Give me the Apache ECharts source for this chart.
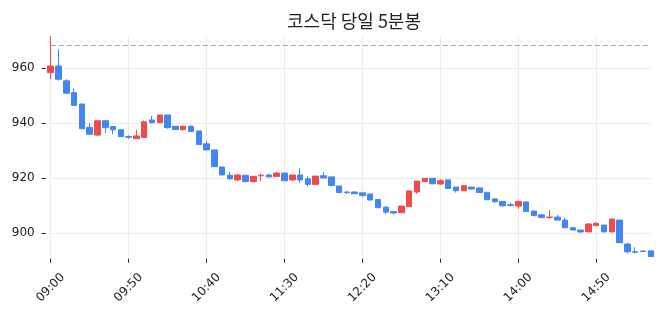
<!DOCTYPE html>
<html>
<head>
<meta charset="utf-8">
<script src="https://cdn.jsdelivr.net/npm/echarts@6/dist/echarts.min.js"></script>
<style>
  html, body { margin: 0; padding: 0; background: #fff; }
  #main { width: 663px; height: 316px; }
</style>
</head>
<body>
<div id="main"></div>
<script>
// 5분봉 시각
var times = [
  '09:00', '09:05', '09:10', '09:15', '09:20', '09:25', '09:30', '09:35', '09:40', '09:45',
  '09:50', '09:55', '10:00', '10:05', '10:10', '10:15', '10:20', '10:25', '10:30', '10:35',
  '10:40', '10:45', '10:50', '10:55', '11:00', '11:05', '11:10', '11:15', '11:20', '11:25',
  '11:30', '11:35', '11:40', '11:45', '11:50', '11:55', '12:00', '12:05', '12:10', '12:15',
  '12:20', '12:25', '12:30', '12:35', '12:40', '12:45', '12:50', '12:55', '13:00', '13:05',
  '13:10', '13:15', '13:20', '13:25', '13:30', '13:35', '13:40', '13:45', '13:50', '13:55',
  '14:00', '14:05', '14:10', '14:15', '14:20', '14:25', '14:30', '14:35', '14:40', '14:45',
  '14:50', '14:55', '15:00', '15:05', '15:10', '15:15', '15:20', '15:25'
];

var opens = [
  958.4, 960.8, 955.4, 951.1, 947.0, 938.5, 935.7, 940.9, 938.8, 937.6,
  935.2, 934.4, 934.8, 941.2, 940.2, 943.0, 938.9, 937.7, 938.9, 937.2,
  932.5, 930.3, 924.1, 921.1, 919.4, 921.1, 918.8, 920.9, 921.2, 920.6,
  921.9, 919.4, 921.2, 919.8, 917.8, 920.9, 920.5, 917.2, 915.0, 915.0,
  914.7, 914.3, 912.3, 909.5, 907.9, 907.5, 909.7, 915.0, 918.8, 920.0,
  917.9, 919.4, 916.8, 915.5, 916.8, 916.5, 914.9, 912.5, 911.6, 910.4,
  909.9, 911.4, 908.1, 906.7, 905.7, 905.9, 904.8, 902.0, 901.2, 900.5,
  902.8, 903.0, 900.5, 904.8, 896.1, 893.3, 893.6, 893.6
];
var closes = [
  960.8, 956.0, 950.9, 946.5, 938.0, 936.0, 940.9, 938.4, 937.6, 935.1,
  934.9, 935.4, 940.5, 940.2, 943.0, 938.4, 937.7, 938.9, 937.0, 932.2,
  930.3, 924.2, 921.2, 919.8, 921.2, 918.8, 920.7, 921.1, 920.5, 921.9,
  919.1, 921.2, 919.4, 917.8, 920.8, 920.1, 917.4, 914.8, 914.8, 914.4,
  913.7, 912.1, 909.3, 907.7, 907.4, 909.9, 915.4, 919.0, 920.0, 918.0,
  919.1, 916.3, 915.5, 917.3, 916.1, 914.8, 912.2, 911.5, 910.0, 910.1,
  911.6, 907.9, 906.4, 905.7, 905.9, 904.8, 902.0, 901.2, 900.5, 903.4,
  903.6, 900.5, 905.2, 896.6, 893.3, 893.1, 893.4, 891.5
];
var lows = [
  956.0, 955.5, 950.9, 946.5, 938.0, 936.0, 935.3, 936.4, 936.0, 935.1,
  934.3, 934.4, 934.8, 940.0, 940.0, 938.0, 937.7, 937.3, 937.0, 932.2,
  930.3, 924.2, 921.2, 919.5, 919.0, 918.8, 918.4, 919.0, 920.5, 920.6,
  919.1, 919.0, 918.4, 917.0, 917.8, 920.1, 917.0, 914.8, 914.2, 914.4,
  913.3, 912.1, 909.3, 906.9, 906.9, 907.5, 909.7, 914.3, 918.8, 918.0,
  917.6, 916.3, 914.8, 915.5, 915.9, 914.8, 912.2, 911.1, 909.7, 909.7,
  908.9, 907.9, 906.4, 905.7, 905.3, 904.8, 902.0, 901.2, 900.1, 900.5,
  902.8, 900.5, 900.5, 896.6, 892.7, 892.7, 893.4, 891.5
];
var highs = [
  971.7, 966.9, 956.0, 952.6, 947.0, 940.0, 940.9, 941.2, 938.8, 937.8,
  935.6, 937.6, 941.0, 942.7, 943.0, 943.0, 938.9, 939.2, 939.2, 937.2,
  933.5, 930.3, 924.1, 922.3, 921.6, 921.1, 920.7, 921.8, 921.6, 922.3,
  921.9, 921.2, 923.6, 920.7, 920.8, 922.3, 920.5, 917.2, 915.4, 915.3,
  914.7, 914.3, 912.3, 909.9, 908.0, 909.9, 915.4, 919.0, 920.0, 920.0,
  919.7, 919.4, 916.8, 917.6, 916.8, 916.5, 914.9, 912.8, 911.6, 911.1,
  911.8, 911.6, 908.1, 907.0, 908.5, 906.7, 905.7, 902.4, 901.2, 903.4,
  904.1, 903.0, 905.2, 904.8, 896.6, 894.9, 893.6, 893.6
];
// 전일 종가 기준선
var prevClose = 968.5;
var yTicks = [900, 920, 940, 960];

var candles = [];
for (var i = 0; i < times.length; i++) {
  candles.push([opens[i], closes[i], lows[i], highs[i]]);
}

var upColor = '#f04a4a';
var downColor = '#4285f4';

var option = {
  animation: false,
  title: {
    text: '코스닥 당일 5분봉',
    left: 349,
    top: 7,
    textAlign: 'center',
    textStyle: {
      fontFamily: 'Noto Sans CJK KR',
      fontSize: 18,
      fontWeight: 'normal',
      color: '#222'
    }
  },
  grid: {
    left: 50.7,
    right: 12.2,
    top: 36,
    bottom: 59.3
  },
  xAxis: {
    type: 'category',
    data: times,
    boundaryGap: false,
    offset: 2,
    axisLine: { show: false },
    axisTick: {
      show: true,
      interval: 9,
      length: 4,
      lineStyle: { color: '#222' }
    },
    axisLabel: {
      interval: 9,
      rotate: 45,
      align: 'center',
      verticalAlign: 'middle',
      margin: 29,
      fontSize: 12,
      fontFamily: 'DejaVu Sans',
      color: '#222'
    },
    splitLine: {
      show: true,
      interval: 9,
      lineStyle: { color: '#ebebeb' }
    }
  },
  yAxis: {
    type: 'value',
    scale: true,
    min: 'dataMin',
    max: 'dataMax',
    offset: 5,
    axisLine: { show: false },
    axisTick: {
      show: true,
      length: 4,
      customValues: yTicks,
      lineStyle: { color: '#222' }
    },
    axisLabel: {
      customValues: yTicks,
      margin: 11,
      fontSize: 12,
      fontFamily: 'DejaVu Sans',
      color: '#222'
    },
    splitLine: {
      show: true,
      lineStyle: { color: '#ebebeb' }
    }
  },
  series: [
    {
      type: 'candlestick',
      data: candles,
      barWidth: 6,
      itemStyle: {
        color: upColor,
        color0: downColor,
        borderColor: upColor,
        borderColor0: downColor,
        borderWidth: 1
      },
      markLine: {
        silent: true,
        symbol: 'none',
        label: { show: false },
        lineStyle: { color: '#9ea3b8', type: [5, 3], width: 1 },
        data: [{ yAxis: prevClose }]
      }
    }
  ]
};

var myChart = echarts.init(document.getElementById('main'));
myChart.setOption(option);
</script>
</body>
</html>
